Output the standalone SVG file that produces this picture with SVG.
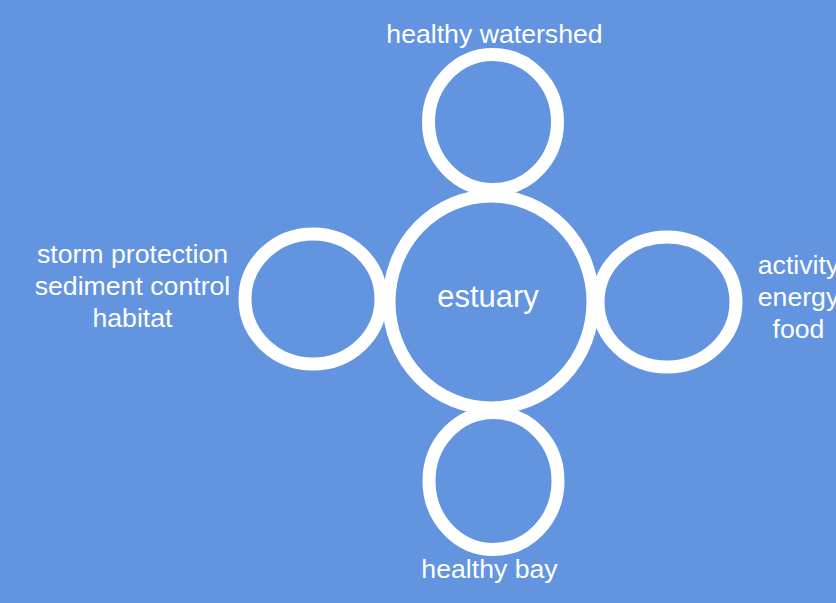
<svg xmlns="http://www.w3.org/2000/svg" width="836" height="603" viewBox="0 0 836 603">
<style>
.ring{fill:none;stroke:#ffffff;stroke-width:13}
.lbl{font-family:"Liberation Sans",Arial,sans-serif;font-size:26.67px;fill:#ffffff;text-anchor:middle}
.main{font-family:"Liberation Sans",Arial,sans-serif;font-size:31px;fill:#ffffff;text-anchor:middle}
</style>
<rect x="0" y="0" width="836" height="603" fill="#6294e0"/>
<g id="connectors"></g>
<g id="top">
<ellipse class="ring" cx="493" cy="122" rx="64.5" ry="67.5"/>
<text class="lbl" x="494.5" y="43">healthy watershed</text>
</g>
<g id="left">
<ellipse class="ring" cx="313" cy="299" rx="68" ry="65"/>
<text class="lbl" x="132.5" y="263">storm protection</text>
<text class="lbl" x="132.5" y="295">sediment control</text>
<text class="lbl" x="132.5" y="327">habitat</text>
</g>
<g id="right">
<ellipse class="ring" cx="667" cy="302" rx="69" ry="65"/>
<text class="lbl" x="798.5" y="274">activity</text>
<text class="lbl" x="798.5" y="306">energy</text>
<text class="lbl" x="798.5" y="338">food</text>
</g>
<g id="bottom">
<ellipse class="ring" cx="493.5" cy="481" rx="64.5" ry="68.5"/>
<text class="lbl" x="489.5" y="578">healthy bay</text>
</g>
<g id="estuary">
<ellipse class="ring" cx="491" cy="302" rx="102" ry="106"/>
<text class="main" x="488" y="307">estuary</text>
</g>
</svg>
